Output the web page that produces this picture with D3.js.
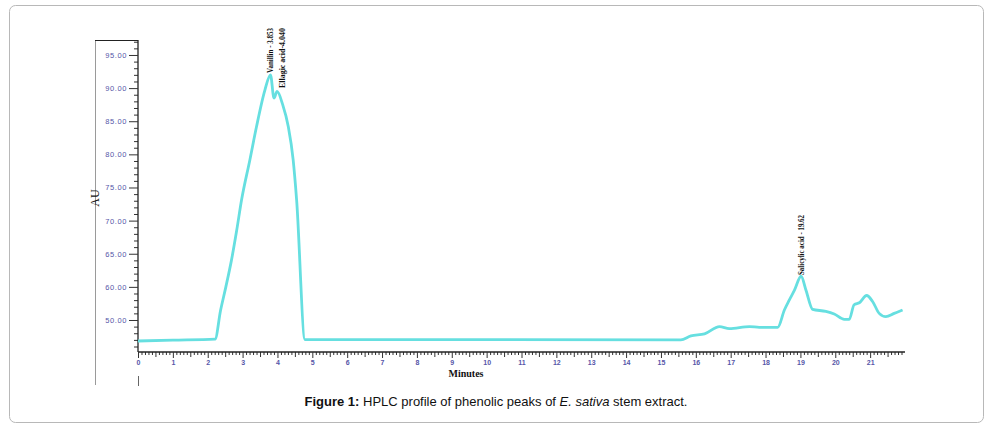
<!DOCTYPE html>
<html>
<head>
<meta charset="utf-8">
<script src="https://cdn.jsdelivr.net/npm/d3@7"></script>
<style>
  html, body { margin: 0; padding: 0; background: #fff; }
  svg { display: block; }
</style>
</head>
<body>
<svg id="chart" width="992" height="430"></svg>
<script>
// ---- data ----
const timeMin = [0, 1, 2.21, 2.37, 2.52, 2.68, 2.83, 2.97, 3.21, 3.40, 3.64, 3.80, 3.90, 3.99, 4.15, 4.31, 4.45, 4.55, 4.79,
  15.57, 15.86, 16.25, 16.68, 16.96, 17.54, 17.82, 18.35, 18.54, 18.68, 18.83, 19.02, 19.16, 19.35, 19.73, 19.97, 20.26, 20.40,
  20.54, 20.69, 20.90, 21.07, 21.26, 21.45, 21.69, 21.93];
const absorbance = [51.83, 51.95, 52.10, 56.5, 60.0, 64.0, 68.5, 73.1, 79.2, 84.2, 89.7, 92.0, 88.5, 89.5, 87.5, 84.2, 79.2, 73.1, 52.05,
  52.0, 52.6, 52.9, 54.0, 53.7, 54.0, 53.9, 53.9, 56.5, 58.0, 59.5, 61.6, 59.5, 56.6, 56.3, 55.9, 55.1, 55.1,
  57.3, 57.6, 58.7, 57.8, 56.0, 55.5, 56.0, 56.5];
const yTickValues = [55, 60, 65, 70, 75, 80, 85, 90, 95];
const yTickLabels = ["50.00", "60.00", "65.00", "70.00", "75.00", "80.00", "85.00", "90.00", "95.00"];
const xTickValues = d3.range(0, 22, 1);
const xTickLabels = xTickValues.map(String);
const peakNames = ["Vanillin - 3.853", "Ellagic acid-4.040", "Salicylic acid - 19.62"];
const peakTimes = [3.80, 4.12, 19.02];

// ---- layout ----
const svg = d3.select("#chart");
const x = d3.scaleLinear().domain([0, 22]).range([138, 905]);
const y = d3.scaleLinear().domain([50.17, 97.26]).range([352, 40]);

// outer frame
svg.append("rect").attr("x", 9.5).attr("y", 5.5).attr("width", 974).attr("height", 417)
  .attr("rx", 6).attr("fill", "none").attr("stroke", "#b8b8b8").attr("stroke-width", 1);

// left gray frame line and top line
svg.append("line").attr("x1", 95.5).attr("x2", 95.5).attr("y1", 40).attr("y2", 385)
  .attr("stroke", "#9a9a9a").attr("stroke-width", 1);
svg.append("line").attr("x1", 95).attr("x2", 138).attr("y1", 40.5).attr("y2", 40.5)
  .attr("stroke", "#222").attr("stroke-width", 1.2);
svg.append("line").attr("x1", 138.5).attr("x2", 138.5).attr("y1", 376).attr("y2", 386)
  .attr("stroke", "#666").attr("stroke-width", 1);

// y axis: minor ticks
const yMinor = d3.range(51, 98, 1).filter(v => v % 5 !== 0);
svg.append("g").attr("transform", "translate(138,0)")
  .call(d3.axisLeft(y).tickValues(yMinor).tickSize(4).tickFormat(""))
  .call(g => g.select(".domain").remove())
  .call(g => g.selectAll("line").attr("stroke", "#333"));
// y axis: major
const yAxis = svg.append("g").attr("transform", "translate(138,0)")
  .call(d3.axisLeft(y).tickValues(yTickValues).tickSize(9).tickPadding(2)
    .tickFormat((d, i) => yTickLabels[i]));
yAxis.select(".domain").attr("d", `M0,${40}V${352}`).attr("stroke", "#222").attr("stroke-width", 1.3);
yAxis.selectAll("line").attr("stroke", "#333");
yAxis.selectAll("text").attr("fill", "#5656a8").attr("font-family", "Liberation Sans, Arial, sans-serif")
  .attr("font-size", 7.5).attr("letter-spacing", 0.6);

// x axis: minor ticks
const xMinor = d3.range(0, 220, 1).map(i => i / 10).filter((v, i) => i % 10 !== 0);
svg.append("g").attr("transform", "translate(0,352)")
  .call(d3.axisBottom(x).tickValues(xMinor).tickSize(3).tickFormat(""))
  .call(g => g.select(".domain").remove())
  .call(g => g.selectAll(".tick line").attr("stroke", "#333")
    .attr("y2", (d, i) => (Math.round(d * 10) % 5 === 0 ? 5 : 3)));
const xAxis = svg.append("g").attr("transform", "translate(0,352)")
  .call(d3.axisBottom(x).tickValues(xTickValues).tickSize(6).tickPadding(2)
    .tickFormat((d, i) => xTickLabels[i]));
xAxis.select(".domain").attr("d", `M138,0H905`).attr("stroke", "#222").attr("stroke-width", 1.3);
xAxis.selectAll("line").attr("stroke", "#333");
xAxis.selectAll("text").attr("fill", "#5656a8").attr("font-family", "Liberation Sans, Arial, sans-serif")
  .attr("font-size", 7).attr("font-weight", "bold");

// trace
const pts = timeMin.map((t, i) => [t, absorbance[i]]);
const line = d3.line().x(d => x(d[0])).y(d => y(d[1])).curve(d3.curveMonotoneX);
svg.append("path").datum(pts).attr("d", line).attr("fill", "none")
  .attr("stroke", "#66dfe0").attr("stroke-width", 2.8).attr("stroke-linejoin", "round");

// peak labels (rotated)
const labelSpec = [
  { top: 28, len: 45 },
  { top: 28, len: 60 },
  { top: 215, len: 60 }
];
peakNames.forEach((name, i) => {
  const px = x(peakTimes[i]);
  const bottom = labelSpec[i].top + labelSpec[i].len;
  svg.append("text")
    .attr("transform", `translate(${px + 3},${bottom}) rotate(-90)`)
    .attr("font-family", "Liberation Serif, Times New Roman, serif")
    .attr("font-weight", "bold").attr("font-size", 8.5).attr("fill", "#111")
    .attr("textLength", labelSpec[i].len).attr("lengthAdjust", "spacingAndGlyphs")
    .text(name);
});

// axis titles
svg.append("text").attr("transform", "translate(99,198) rotate(-90)")
  .attr("text-anchor", "middle").attr("font-family", "Liberation Serif, Times New Roman, serif")
  .attr("font-size", 12).attr("fill", "#111").text("AU");
svg.append("text").attr("x", 466).attr("y", 377).attr("text-anchor", "middle")
  .attr("font-family", "Liberation Serif, Times New Roman, serif")
  .attr("font-weight", "bold").attr("font-size", 10).attr("fill", "#111").text("Minutes");

// caption
const cap = svg.append("text").attr("x", 496).attr("y", 406).attr("text-anchor", "middle")
  .attr("font-family", "Liberation Sans, Arial, sans-serif").attr("font-size", 13).attr("fill", "#111");
cap.append("tspan").attr("font-weight", "bold").text("Figure 1:");
cap.append("tspan").text(" HPLC profile of phenolic peaks of ");
cap.append("tspan").attr("font-style", "italic").text("E. sativa");
cap.append("tspan").text(" stem extract.");
</script>
</body>
</html>
